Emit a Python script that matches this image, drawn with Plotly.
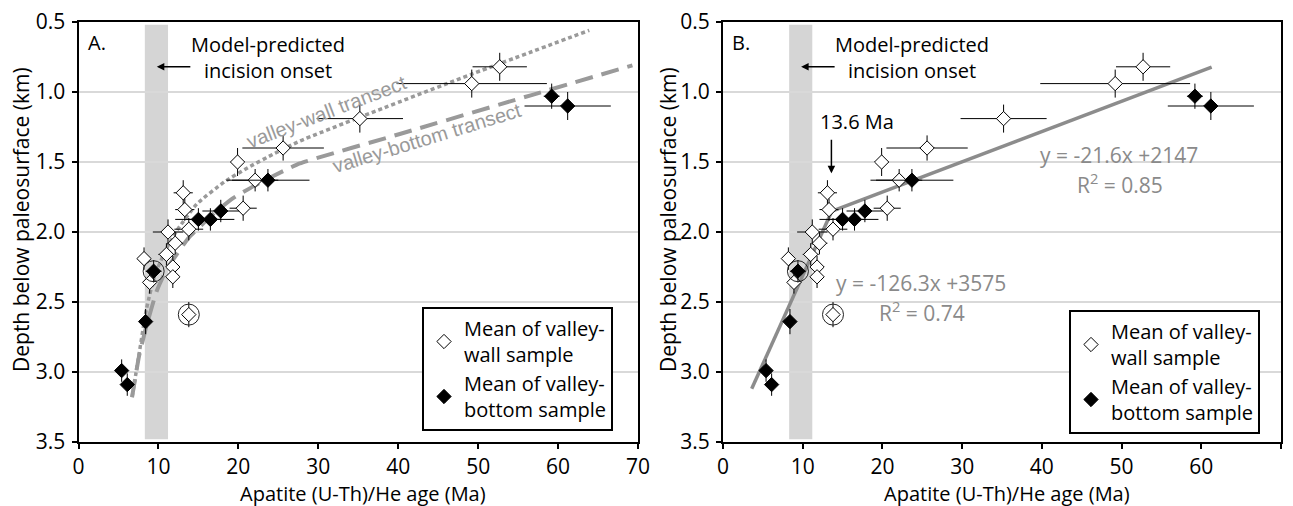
import plotly.graph_objects as go

W, H = 1293, 506
FONT = "Open Sans"
CURVE_FONT = "Liberation Sans"
GRAY_LINE = "#9a9a9a"
FIT_LINE = "#8c8c8c"
FIT_TEXT = "#8a8a8a"

# Valley-wall sample means (open diamonds): age (Ma), depth (km) and 1-sigma errors
wall_age = [52.7, 49.2, 35.2, 25.6, 19.9, 22.1, 20.6, 13.1, 13.3, 13.8, 11.2, 12.1, 11.0, 11.8, 11.8, 8.2, 8.9, 13.8]
wall_depth = [0.82, 0.94, 1.19, 1.40, 1.50, 1.63, 1.83, 1.72, 1.84, 1.98, 2.00, 2.08, 2.16, 2.25, 2.32, 2.19, 2.36, 2.59]
wall_age_err = [3.4, 9.4, 5.4, 5.1, 0.5, 2.9, 1.7, 1.2, 1.2, 1.8, 1.9, 1.0, 1.0, 0.8, 0.8, 0.6, 0.6, 0.5]
wall_depth_err = [0.10, 0.10, 0.10, 0.09, 0.10, 0.08, 0.09, 0.09, 0.08, 0.08, 0.09, 0.08, 0.08, 0.08, 0.08, 0.08, 0.08, 0.09]

# Valley-bottom sample means (filled diamonds)
bottom_age = [59.2, 61.2, 23.7, 17.8, 16.5, 15.0, 9.4, 8.4, 5.4, 6.1]
bottom_depth = [1.03, 1.10, 1.63, 1.85, 1.91, 1.91, 2.28, 2.64, 2.99, 3.09]
bottom_age_err = [1.0, 5.4, 5.2, 2.3, 3.0, 2.9, 1.0, 0.5, 0.5, 0.5]
bottom_depth_err = [0.09, 0.10, 0.08, 0.08, 0.08, 0.08, 0.08, 0.09, 0.08, 0.08]

# Samples flagged with a ring
circled_age = [9.4, 13.8]
circled_depth = [2.28, 2.59]

# Model-predicted incision onset window (Ma)
onset_window = [8.3, 11.2]

# Trend curves through the two transects (panel A)
wall_curve_age = [6.7, 7.5, 8.5, 9.6, 11.0, 12.3, 14.8, 18.3, 21.2, 24.5, 27.7, 35.2, 49.3, 63.9]
wall_curve_depth = [3.18, 2.90, 2.55, 2.30, 2.12, 1.99, 1.80, 1.64, 1.54, 1.44, 1.35, 1.18, 0.87, 0.56]
bottom_curve_age = [6.7, 7.6, 8.6, 9.8, 11.0, 12.4, 13.8, 16.9, 19.3, 22.3, 25.6, 27.7, 40.2, 56.8, 69.3]
bottom_curve_depth = [3.18, 2.88, 2.65, 2.42, 2.27, 2.15, 2.04, 1.87, 1.76, 1.66, 1.565, 1.51, 1.30, 1.02, 0.81]

# Two-segment linear fit (panel B): depth (m) = slope * age + intercept
fit_slope = [-126.3, -21.6]
fit_intercept = [3575, 2147]
fit_r2 = [0.74, 0.85]
fit_age_start = [3.6, 13.6]
fit_age_end = [13.6, 61.3]
break_age = 13.6

x_ticks = [0, 10, 20, 30, 40, 50, 60, 70]
y_ticks = [0.5, 1.0, 1.5, 2.0, 2.5, 3.0, 3.5]


def px(x):
    return x / W


def py(y):
    return 1 - y / H


fig = go.Figure()

panels = [("x", "y"), ("x2", "y2")]


def add_samples(xa, ya):
    fig.add_trace(go.Scatter(
        x=wall_age, y=wall_depth, mode="markers", xaxis=xa, yaxis=ya, showlegend=False,
        error_x=dict(type="data", array=wall_age_err, color="black", thickness=1, width=0),
        error_y=dict(type="data", array=wall_depth_err, color="black", thickness=1, width=0),
        marker=dict(symbol="diamond", size=11, color="white", line=dict(color="black", width=1)),
    ))
    fig.add_trace(go.Scatter(
        x=bottom_age, y=bottom_depth, mode="markers", xaxis=xa, yaxis=ya, showlegend=False,
        error_x=dict(type="data", array=bottom_age_err, color="black", thickness=1, width=0),
        error_y=dict(type="data", array=bottom_depth_err, color="black", thickness=1, width=0),
        marker=dict(symbol="diamond", size=11, color="black", line=dict(color="black", width=1)),
    ))
    fig.add_trace(go.Scatter(
        x=circled_age, y=circled_depth, mode="markers", xaxis=xa, yaxis=ya, showlegend=False,
        marker=dict(symbol="circle-open", size=21, color="#222222", line=dict(width=1)),
        hoverinfo="skip",
    ))


# Panel A: transect trend curves
fig.add_trace(go.Scatter(
    x=wall_curve_age, y=wall_curve_depth, mode="lines", xaxis="x", yaxis="y", showlegend=False,
    line=dict(color=GRAY_LINE, width=3.5, dash="4px,3px", shape="spline", smoothing=0.5),
))
fig.add_trace(go.Scatter(
    x=bottom_curve_age, y=bottom_curve_depth, mode="lines", xaxis="x", yaxis="y", showlegend=False,
    line=dict(color=GRAY_LINE, width=4, dash="18px,9px", shape="spline", smoothing=0.5),
))
add_samples("x", "y")

# Panel B: two linear segments from the stated fit equations
for s, b, a0, a1 in zip(fit_slope, fit_intercept, fit_age_start, fit_age_end):
    ages = [a0, a1]
    depths = [(s * a + b) / 1000 for a in ages]
    fig.add_trace(go.Scatter(
        x=ages, y=depths, mode="lines", xaxis="x2", yaxis="y2", showlegend=False,
        line=dict(color=FIT_LINE, width=3.5),
    ))
add_samples("x2", "y2")

# Legend-only entries for each panel
for leg, xa, ya in [("legend", "x", "y"), ("legend2", "x2", "y2")]:
    fig.add_trace(go.Scatter(
        x=[None], y=[None], mode="markers", xaxis=xa, yaxis=ya, legend=leg,
        name="Mean of valley-<br>wall sample",
        marker=dict(symbol="diamond", size=11, color="white", line=dict(color="black", width=1)),
    ))
    fig.add_trace(go.Scatter(
        x=[None], y=[None], mode="markers", xaxis=xa, yaxis=ya, legend=leg,
        name="Mean of valley-<br>bottom sample",
        marker=dict(symbol="diamond", size=11, color="black", line=dict(color="black", width=1)),
    ))

shapes = []
annotations = []
for i, (xa, ya) in enumerate(panels):
    shapes.append(dict(
        type="rect", xref=xa, yref=ya, x0=onset_window[0], x1=onset_window[1], y0=0.52, y1=3.48,
        fillcolor="#d5d5d5", line=dict(width=0), layer="below",
    ))
    annotations.append(dict(
        xref=xa, yref=ya, x=onset_window[1] - 1.4, y=0.82, ax=35, ay=0, text="",
        showarrow=True, arrowhead=2, arrowsize=1, arrowwidth=1.5, arrowcolor="black",
    ))

# Panel-level text (pixel positions converted to paper coordinates)
text_items = [
    ("A.", 97, 43, "black", 20),
    ("B.", 741, 43, "black", 20),
    ("Model-predicted<br>incision onset", 268, 57, "black", 20),
    ("Model-predicted<br>incision onset", 912, 57, "black", 20),
    ("%s Ma" % break_age, 857, 122, "black", 20),
    ("y = %.1fx +%d" % (fit_slope[1], fit_intercept[1]), 1119, 155, FIT_TEXT, 21),
    ("R<sup>2</sup> = %.2f" % fit_r2[1], 1120, 183, FIT_TEXT, 21),
    ("y = %.1fx +%d" % (fit_slope[0], fit_intercept[0]), 921, 283, FIT_TEXT, 21),
    ("R<sup>2</sup> = %.2f" % fit_r2[0], 922, 311, FIT_TEXT, 21),
    ("Apatite (U-Th)/He age (Ma)", 363, 493, "black", 20),
    ("Apatite (U-Th)/He age (Ma)", 1007, 493, "black", 20),
]
for txt, x, y, col, size in text_items:
    annotations.append(dict(
        xref="paper", yref="paper", x=px(x), y=py(y), text=txt, showarrow=False,
        xanchor="center", yanchor="middle", font=dict(family=FONT, size=size, color=col),
    ))

for x in (21, 668):
    annotations.append(dict(
        xref="paper", yref="paper", x=px(x), y=py(220), text="Depth below paleosurface (km)",
        showarrow=False, textangle=-90, xanchor="center", yanchor="middle",
        font=dict(family=FONT, size=21, color="black"),
    ))

# Curve labels
annotations.append(dict(
    xref="paper", yref="paper", x=px(326), y=py(112), text="valley-wall transect", showarrow=False,
    textangle=-21, xanchor="center", yanchor="middle",
    font=dict(family=CURVE_FONT, size=20, color=GRAY_LINE),
))
annotations.append(dict(
    xref="paper", yref="paper", x=px(427), y=py(138), text="valley-bottom transect", showarrow=False,
    textangle=-17, xanchor="center", yanchor="middle",
    font=dict(family=CURVE_FONT, size=20, color=GRAY_LINE),
))

# Arrow marking the fit break
annotations.append(dict(
    xref="x2", yref="y2", x=break_age, y=1.58, ax=0, ay=-35, text="",
    showarrow=True, arrowhead=2, arrowsize=1, arrowwidth=1.5, arrowcolor="black",
))

ydom = [py(442), py(22)]
axis_common = dict(
    showline=True, linewidth=2, linecolor="black", mirror=True,
    ticks="outside", ticklen=5, tickwidth=1.5, tickcolor="black",
    tickfont=dict(family=FONT, size=21, color="black"), zeroline=False,
)
xaxis_style = dict(axis_common, range=[0, 70], tickvals=x_ticks, showgrid=False, ticklabelstandoff=0)
yaxis_style = dict(axis_common, range=[3.5, 0.5], tickvals=y_ticks, tickformat=".1f",
                   showgrid=True, gridcolor="#d9d9d9", gridwidth=1.5, ticklabelstandoff=2)

legend_style = dict(
    xanchor="left", yanchor="top", bordercolor="black", borderwidth=2, bgcolor="white",
    font=dict(family=FONT, size=20, color="black"), tracegroupgap=0,
)

fig.update_layout(
    width=W, height=H,
    margin=dict(l=0, r=0, t=0, b=0, autoexpand=False),
    paper_bgcolor="white", plot_bgcolor="white",
    font=dict(family=FONT, color="black"),
    xaxis=dict(xaxis_style, domain=[px(78.5), px(638)], anchor="y"),
    yaxis=dict(yaxis_style, domain=ydom, anchor="x"),
    xaxis2=dict(xaxis_style, domain=[px(723), px(1281)], anchor="y2"),
    yaxis2=dict(yaxis_style, domain=ydom, anchor="x2"),
    legend=dict(legend_style, x=px(422), y=py(307)),
    legend2=dict(legend_style, x=px(1069), y=py(310)),
    shapes=shapes,
    annotations=annotations,
)

fig.write_html(
    "out.html",
    post_script="document.body.style.margin='0';document.body.style.overflow='hidden';",
)
